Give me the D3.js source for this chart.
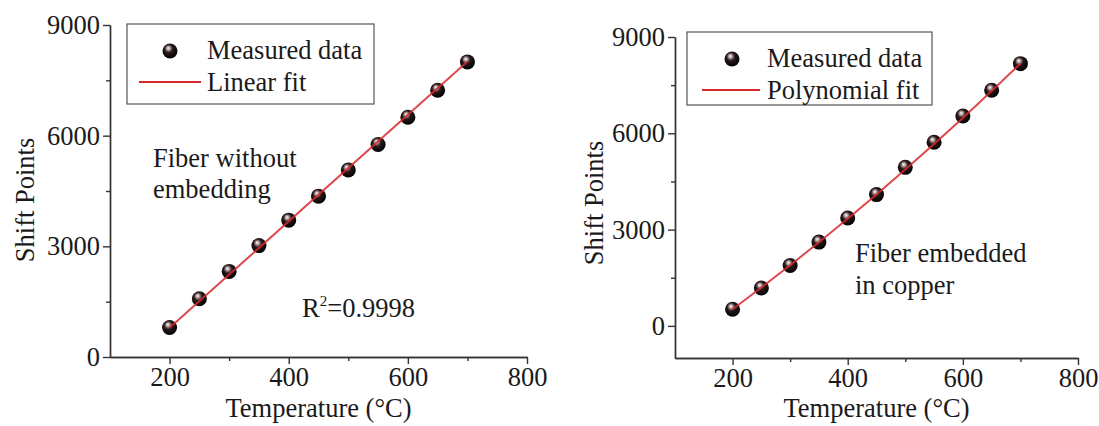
<!DOCTYPE html>
<html>
<head>
<meta charset="utf-8">
<script src="https://cdn.jsdelivr.net/npm/d3@7"></script>
<style>
  body { margin: 0; background: #fff; }
  text { font-family: "Liberation Serif", "Times New Roman", serif; fill: #1a1a1a; }
</style>
</head>
<body>
<svg></svg>
<script>
// data
var temps = [200, 250, 300, 350, 400, 450, 500, 550, 600, 650, 700];
var shiftBare = [800, 1580, 2320, 3020, 3710, 4360, 5070, 5760, 6500, 7230, 8000];
var shiftCopper = [520, 1180, 1880, 2610, 3360, 4090, 4940, 5720, 6540, 7340, 8170];

// fit lines
var linFitX = [200, 700];
var linFitY = [790, 8010];
var polyFitY = [520, 1195, 1890, 2605, 3340, 4095, 4870, 5665, 6480, 7315, 8170];

var xTicks = [200, 400, 600, 800];
var xMinor = [300, 500, 700];
var yTicks = [0, 3000, 6000, 9000];
var yMinor = [1500, 4500, 7500];

var svgWidth = 1099, svgHeight = 426;
var fontSize = 26.5;
var red = "#d8282c";

var svg = d3.select("svg")
    .attr("width", svgWidth)
    .attr("height", svgHeight);

// glossy sphere marker
var grad = svg.append("defs").append("radialGradient")
    .attr("id", "ball")
    .attr("cx", "45%").attr("cy", "40%").attr("r", "60%")
    .attr("fx", "38%").attr("fy", "30%");
grad.append("stop").attr("offset", "0%").attr("stop-color", "#ffffff");
grad.append("stop").attr("offset", "18%").attr("stop-color", "#b9a8aa");
grad.append("stop").attr("offset", "45%").attr("stop-color", "#2a1a1c");
grad.append("stop").attr("offset", "100%").attr("stop-color", "#000000");

function drawPanel(p) {
  var g = svg.append("g");

  var xScale = d3.scaleLinear().domain([100, 800]).range(p.xRange);
  var yScale = d3.scaleLinear().domain(p.yDomain).range(p.yRange);

  // minor ticks first
  g.append("g")
    .attr("class", "axis")
    .attr("transform", "translate(0," + p.yRange[0] + ")")
    .call(d3.axisBottom(xScale).tickValues(xMinor).tickSize(4).tickSizeOuter(0).tickFormat(""));
  g.append("g")
    .attr("class", "axis")
    .attr("transform", "translate(" + p.xRange[0] + ",0)")
    .call(d3.axisLeft(yScale).tickValues(yMinor).tickSize(4).tickSizeOuter(0).tickFormat(""));

  // major ticks
  g.append("g")
    .attr("class", "axis")
    .attr("transform", "translate(0," + p.yRange[0] + ")")
    .call(d3.axisBottom(xScale).tickValues(xTicks).tickSize(7).tickPadding(3).tickSizeOuter(0).tickFormat(d3.format("d")));
  g.append("g")
    .attr("class", "axis")
    .attr("transform", "translate(" + p.xRange[0] + ",0)")
    .call(d3.axisLeft(yScale).tickValues(yTicks).tickSize(7).tickPadding(3).tickSizeOuter(0).tickFormat(d3.format("d")));

  g.selectAll(".axis path, .axis line")
    .attr("stroke", "#333")
    .attr("stroke-width", 1.4);
  g.selectAll(".axis text")
    .style("font-size", fontSize + "px")
    .attr("fill", "#1a1a1a");

  // axis titles
  g.append("text")
    .attr("x", (p.xRange[0] + p.xRange[1]) / 2)
    .attr("y", 417)
    .attr("text-anchor", "middle")
    .style("font-size", fontSize + "px")
    .text("Temperature (°C)");
  g.append("text")
    .attr("transform", "translate(" + p.yLabelX + "," + p.yLabelY + ") rotate(-90)")
    .attr("text-anchor", "middle")
    .attr("dy", "0.35em")
    .style("font-size", fontSize + "px")
    .text("Shift Points");

  // points, then fit line on top
  g.selectAll(".pt")
    .data(p.values)
    .enter().append("circle")
    .attr("class", "pt")
    .attr("cx", function(d, i) { return xScale(temps[i]); })
    .attr("cy", function(d) { return yScale(d); })
    .attr("r", 7.5)
    .attr("fill", "url(#ball)");

  var line = d3.line()
    .x(function(d) { return xScale(d[0]); })
    .y(function(d) { return yScale(d[1]); });
  g.append("path")
    .datum(p.fit)
    .attr("d", line)
    .attr("fill", "none")
    .attr("stroke", red)
    .attr("stroke-width", 2)
    .attr("stroke-opacity", 0.85);

  // legend
  var b = p.legend;
  g.append("rect")
    .attr("x", b.x).attr("y", b.y)
    .attr("width", b.w).attr("height", b.h)
    .attr("fill", "#fff")
    .attr("stroke", "#555")
    .attr("stroke-width", 1.2);
  g.append("circle")
    .attr("cx", b.markX).attr("cy", b.y + 27)
    .attr("r", 7.5)
    .attr("fill", "url(#ball)");
  g.append("line")
    .attr("x1", b.lineX0).attr("x2", b.lineX1)
    .attr("y1", b.y + 58).attr("y2", b.y + 58)
    .attr("stroke", red)
    .attr("stroke-width", 2);
  g.append("text")
    .attr("x", b.textX).attr("y", b.y + 35)
    .style("font-size", fontSize + "px")
    .text("Measured data");
  g.append("text")
    .attr("x", b.textX).attr("y", b.y + 67)
    .style("font-size", fontSize + "px")
    .text(p.fitName);

  // notes
  p.notes.forEach(function(n) {
    g.append("text")
      .attr("x", n.x).attr("y", n.y)
      .style("font-size", fontSize + "px")
      .text(n.t);
  });
  return g;
}

var left = drawPanel({
  xRange: [110, 527],
  yDomain: [0, 9000],
  yRange: [357, 25],
  yLabelX: 25, yLabelY: 200,
  values: shiftBare,
  fit: linFitX.map(function(x, i) { return [x, linFitY[i]]; }),
  fitName: "Linear fit",
  legend: { x: 127, y: 24, w: 247, h: 80, markX: 170, lineX0: 139, lineX1: 201, textX: 207 },
  notes: [
    { x: 153, y: 167, t: "Fiber without" },
    { x: 153, y: 198, t: "embedding" }
  ]
});

// R squared label with superscript
var r2 = left.append("text")
    .attr("x", 302).attr("y", 317)
    .style("font-size", fontSize + "px");
r2.append("tspan").text("R");
r2.append("tspan").attr("dy", -11).style("font-size", "15px").text("2");
r2.append("tspan").attr("dy", 11).text("=0.9998");

drawPanel({
  xRange: [675, 1078],
  yDomain: [-1000, 9000],
  yRange: [358, 37],
  yLabelX: 594, yLabelY: 203,
  values: shiftCopper,
  fit: temps.map(function(x, i) { return [x, polyFitY[i]]; }),
  fitName: "Polynomial fit",
  legend: { x: 687, y: 32, w: 245, h: 73, markX: 732, lineX0: 702, lineX1: 760, textX: 767 },
  notes: [
    { x: 855, y: 262, t: "Fiber embedded" },
    { x: 855, y: 294, t: "in copper" }
  ]
});
</script>
</body>
</html>
